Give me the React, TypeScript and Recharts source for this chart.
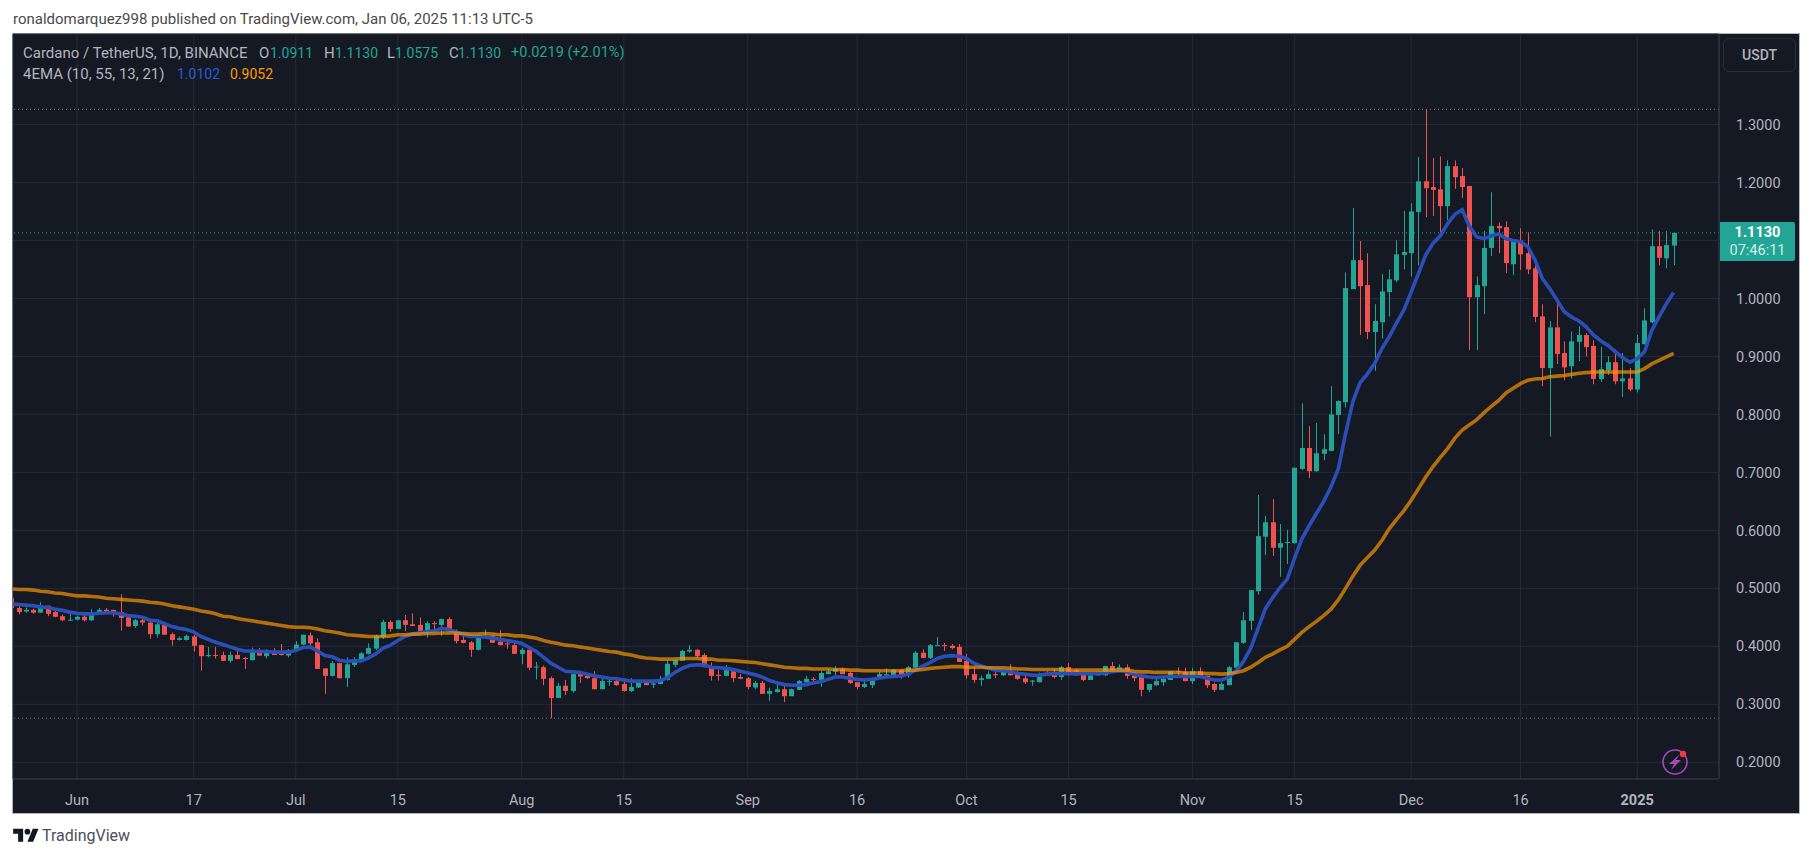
import { Bar, CartesianGrid, ComposedChart, Line, ReferenceLine, XAxis, YAxis } from "recharts";

// days are counted from Jun 1 2024, first candle is May 23
const firstDay = -9;

const opens = [
  0.483, 0.466, 0.46, 0.463, 0.458, 0.47, 0.459, 0.452, 0.445, 0.446,
  0.451, 0.445, 0.456, 0.463, 0.463, 0.459, 0.45, 0.435, 0.445, 0.441,
  0.421, 0.438, 0.421, 0.411, 0.411, 0.417, 0.402, 0.383, 0.385, 0.385,
  0.375, 0.385, 0.38, 0.376, 0.391, 0.383, 0.391, 0.387, 0.384, 0.392,
  0.403, 0.419, 0.407, 0.362, 0.349, 0.371, 0.345, 0.368, 0.375, 0.387,
  0.396, 0.416, 0.442, 0.43, 0.445, 0.438, 0.437, 0.423, 0.44, 0.437,
  0.447, 0.425, 0.411, 0.407, 0.394, 0.416, 0.418, 0.408, 0.405, 0.402,
  0.387, 0.394, 0.364, 0.364, 0.345, 0.311, 0.332, 0.323, 0.352, 0.349,
  0.345, 0.326, 0.339, 0.34, 0.335, 0.323, 0.329, 0.338, 0.334, 0.335,
  0.342, 0.368, 0.375, 0.391, 0.394, 0.385, 0.366, 0.351, 0.349, 0.357,
  0.347, 0.345, 0.329, 0.337, 0.318, 0.321, 0.326, 0.314, 0.325, 0.338,
  0.344, 0.342, 0.352, 0.356, 0.361, 0.354, 0.338, 0.33, 0.333, 0.344,
  0.35, 0.35, 0.359, 0.35, 0.363, 0.389, 0.38, 0.401, 0.402, 0.401,
  0.399, 0.375, 0.352, 0.342, 0.344, 0.352, 0.35, 0.357, 0.352, 0.345,
  0.339, 0.338, 0.352, 0.354, 0.347, 0.364, 0.359, 0.352, 0.342, 0.35,
  0.35, 0.366, 0.359, 0.364, 0.35, 0.347, 0.325, 0.333, 0.338, 0.342,
  0.357, 0.356, 0.34, 0.357, 0.349, 0.335, 0.325, 0.333, 0.363, 0.406,
  0.444, 0.495, 0.589, 0.614, 0.57, 0.578, 0.578, 0.706, 0.742, 0.702,
  0.732, 0.737, 0.799, 0.821, 1.016, 1.066, 1.023, 0.942, 0.959, 1.011,
  1.031, 1.075, 1.078, 1.149, 1.202, 1.192, 1.188, 1.159, 1.228, 1.211,
  1.194, 1.002, 1.021, 1.087, 1.125, 1.123, 1.059, 1.1, 1.078, 1.052,
  0.969, 0.88, 0.95, 0.906, 0.883, 0.925, 0.937, 0.918, 0.861, 0.876,
  0.89, 0.857, 0.862, 0.843, 0.921, 0.959, 1.09, 1.069, 1.0911,
];

const highs = [
  0.483, 0.47, 0.467, 0.465, 0.476, 0.47, 0.464, 0.455, 0.456, 0.453,
  0.454, 0.464, 0.466, 0.466, 0.463, 0.49, 0.451, 0.447, 0.452, 0.445,
  0.445, 0.44, 0.424, 0.417, 0.42, 0.42, 0.403, 0.399, 0.399, 0.391,
  0.391, 0.394, 0.382, 0.398, 0.397, 0.395, 0.397, 0.404, 0.395, 0.409,
  0.42, 0.424, 0.414, 0.362, 0.374, 0.372, 0.381, 0.381, 0.39, 0.405,
  0.42, 0.446, 0.445, 0.446, 0.454, 0.457, 0.45, 0.443, 0.443, 0.448,
  0.45, 0.429, 0.42, 0.409, 0.42, 0.429, 0.419, 0.428, 0.409, 0.409,
  0.397, 0.396, 0.373, 0.367, 0.348, 0.337, 0.342, 0.353, 0.356, 0.352,
  0.357, 0.345, 0.345, 0.347, 0.342, 0.345, 0.34, 0.34, 0.34, 0.349,
  0.376, 0.377, 0.394, 0.402, 0.395, 0.388, 0.372, 0.36, 0.368, 0.362,
  0.352, 0.347, 0.34, 0.34, 0.329, 0.34, 0.333, 0.327, 0.342, 0.349,
  0.347, 0.357, 0.361, 0.366, 0.363, 0.356, 0.338, 0.344, 0.345, 0.356,
  0.362, 0.361, 0.361, 0.366, 0.392, 0.395, 0.404, 0.416, 0.406, 0.404,
  0.404, 0.387, 0.365, 0.35, 0.357, 0.356, 0.359, 0.369, 0.357, 0.349,
  0.342, 0.355, 0.357, 0.361, 0.366, 0.371, 0.361, 0.355, 0.353, 0.357,
  0.366, 0.373, 0.369, 0.369, 0.356, 0.347, 0.335, 0.344, 0.349, 0.357,
  0.364, 0.363, 0.363, 0.364, 0.349, 0.337, 0.338, 0.366, 0.407, 0.459,
  0.497, 0.661, 0.625, 0.654, 0.611, 0.601, 0.708, 0.819, 0.78, 0.785,
  0.766, 0.849, 0.824, 1.045, 1.156, 1.099, 1.078, 0.99, 1.042, 1.05,
  1.1, 1.151, 1.164, 1.244, 1.326, 1.242, 1.245, 1.238, 1.238, 1.225,
  1.194, 1.038, 1.116, 1.183, 1.131, 1.133, 1.102, 1.121, 1.114, 1.061,
  0.99, 0.961, 0.999, 0.926, 0.943, 0.952, 0.94, 0.928, 0.916, 0.9,
  0.912, 0.906, 0.88, 0.937, 0.983, 1.119, 1.116, 1.116, 1.113,
];

const lows = [
  0.466, 0.455, 0.458, 0.456, 0.458, 0.452, 0.45, 0.444, 0.444, 0.445,
  0.443, 0.444, 0.455, 0.458, 0.451, 0.427, 0.434, 0.432, 0.436, 0.413,
  0.415, 0.42, 0.401, 0.41, 0.41, 0.391, 0.358, 0.381, 0.379, 0.375,
  0.372, 0.378, 0.361, 0.376, 0.384, 0.379, 0.385, 0.384, 0.381, 0.391,
  0.402, 0.402, 0.361, 0.318, 0.348, 0.345, 0.33, 0.364, 0.373, 0.386,
  0.394, 0.413, 0.425, 0.43, 0.426, 0.435, 0.422, 0.415, 0.428, 0.418,
  0.425, 0.405, 0.405, 0.382, 0.393, 0.413, 0.406, 0.402, 0.396, 0.387,
  0.369, 0.359, 0.343, 0.333, 0.276, 0.311, 0.316, 0.32, 0.337, 0.344,
  0.326, 0.326, 0.332, 0.332, 0.322, 0.321, 0.328, 0.333, 0.328, 0.335,
  0.341, 0.364, 0.375, 0.389, 0.381, 0.364, 0.341, 0.341, 0.349, 0.338,
  0.344, 0.326, 0.326, 0.318, 0.306, 0.32, 0.304, 0.314, 0.325, 0.338,
  0.338, 0.33, 0.352, 0.35, 0.352, 0.335, 0.326, 0.328, 0.328, 0.344,
  0.349, 0.35, 0.344, 0.346, 0.361, 0.38, 0.378, 0.401, 0.392, 0.395,
  0.373, 0.344, 0.337, 0.332, 0.344, 0.345, 0.349, 0.35, 0.342, 0.335,
  0.332, 0.338, 0.35, 0.345, 0.342, 0.349, 0.35, 0.34, 0.342, 0.35,
  0.349, 0.354, 0.357, 0.344, 0.34, 0.314, 0.321, 0.332, 0.332, 0.342,
  0.35, 0.34, 0.335, 0.345, 0.328, 0.321, 0.325, 0.333, 0.363, 0.404,
  0.428, 0.489, 0.557, 0.556, 0.52, 0.542, 0.577, 0.704, 0.69, 0.701,
  0.721, 0.737, 0.766, 0.812, 1.016, 0.937, 0.93, 0.875, 0.931, 0.969,
  1.028, 1.05, 1.038, 1.057, 1.14, 1.142, 1.114, 1.135, 1.189, 1.173,
  0.911, 0.911, 0.973, 1.073, 1.078, 1.044, 1.04, 1.049, 1.042, 0.959,
  0.849, 0.762, 0.887, 0.859, 0.862, 0.892, 0.9, 0.852, 0.856, 0.868,
  0.852, 0.83, 0.84, 0.838, 0.921, 0.957, 1.057, 1.052, 1.0575,
];

const closes = [
  0.466, 0.459, 0.463, 0.458, 0.47, 0.456, 0.451, 0.445, 0.446, 0.451,
  0.445, 0.457, 0.463, 0.46, 0.458, 0.449, 0.434, 0.445, 0.441, 0.421,
  0.438, 0.42, 0.411, 0.414, 0.418, 0.401, 0.383, 0.385, 0.384, 0.375,
  0.385, 0.378, 0.378, 0.391, 0.384, 0.391, 0.385, 0.385, 0.393, 0.403,
  0.42, 0.405, 0.361, 0.349, 0.371, 0.345, 0.369, 0.376, 0.388, 0.397,
  0.418, 0.442, 0.43, 0.445, 0.437, 0.435, 0.423, 0.44, 0.439, 0.447,
  0.426, 0.409, 0.406, 0.394, 0.418, 0.417, 0.406, 0.402, 0.404, 0.387,
  0.394, 0.363, 0.365, 0.344, 0.311, 0.332, 0.323, 0.352, 0.348, 0.345,
  0.326, 0.34, 0.34, 0.333, 0.323, 0.33, 0.338, 0.333, 0.336, 0.344,
  0.37, 0.376, 0.392, 0.394, 0.383, 0.364, 0.349, 0.349, 0.359, 0.345,
  0.344, 0.33, 0.337, 0.318, 0.323, 0.326, 0.314, 0.326, 0.34, 0.344,
  0.342, 0.354, 0.357, 0.361, 0.352, 0.337, 0.33, 0.335, 0.345, 0.352,
  0.352, 0.359, 0.35, 0.364, 0.389, 0.38, 0.402, 0.402, 0.401, 0.397,
  0.373, 0.35, 0.342, 0.345, 0.352, 0.35, 0.357, 0.35, 0.344, 0.338,
  0.341, 0.352, 0.354, 0.347, 0.364, 0.356, 0.35, 0.342, 0.35, 0.352,
  0.366, 0.357, 0.364, 0.349, 0.345, 0.325, 0.335, 0.34, 0.344, 0.357,
  0.356, 0.34, 0.357, 0.347, 0.333, 0.325, 0.335, 0.364, 0.407, 0.445,
  0.497, 0.59, 0.614, 0.57, 0.578, 0.58, 0.708, 0.742, 0.702, 0.733,
  0.74, 0.8, 0.823, 1.018, 1.066, 1.021, 0.942, 0.961, 1.012, 1.033,
  1.076, 1.08, 1.15, 1.202, 1.19, 1.187, 1.159, 1.228, 1.209, 1.192,
  1.002, 1.023, 1.087, 1.125, 1.121, 1.061, 1.1, 1.076, 1.05, 0.968,
  0.88, 0.95, 0.904, 0.881, 0.926, 0.937, 0.916, 0.861, 0.878, 0.89,
  0.857, 0.862, 0.843, 0.923, 0.962, 1.09, 1.07, 1.092, 1.113,
];

const emaBlue = [
  0.473, 0.472, 0.471, 0.47, 0.468, 0.467, 0.464, 0.462, 0.459, 0.457,
  0.456, 0.456, 0.457, 0.458, 0.458, 0.456, 0.453, 0.452, 0.45, 0.445,
  0.444, 0.439, 0.434, 0.431, 0.429, 0.425, 0.417, 0.412, 0.407, 0.403,
  0.399, 0.395, 0.392, 0.392, 0.391, 0.391, 0.39, 0.39, 0.39, 0.393,
  0.398, 0.399, 0.392, 0.384, 0.382, 0.376, 0.374, 0.375, 0.375, 0.38,
  0.387, 0.397, 0.402, 0.41, 0.417, 0.421, 0.424, 0.425, 0.427, 0.431,
  0.429, 0.425, 0.42, 0.417, 0.417, 0.416, 0.414, 0.412, 0.41, 0.408,
  0.405, 0.398, 0.391, 0.381, 0.371, 0.364, 0.357, 0.356, 0.355, 0.352,
  0.349, 0.347, 0.345, 0.344, 0.342, 0.34, 0.34, 0.34, 0.34, 0.341,
  0.346, 0.355, 0.362, 0.367, 0.368, 0.368, 0.364, 0.363, 0.362, 0.36,
  0.357, 0.354, 0.351, 0.347, 0.341, 0.337, 0.334, 0.333, 0.333, 0.334,
  0.337, 0.339, 0.343, 0.347, 0.347, 0.345, 0.343, 0.342, 0.343, 0.345,
  0.347, 0.348, 0.349, 0.352, 0.359, 0.366, 0.372, 0.379, 0.383, 0.384,
  0.383, 0.379, 0.371, 0.366, 0.362, 0.359, 0.358, 0.356, 0.353, 0.352,
  0.35, 0.35, 0.352, 0.353, 0.353, 0.353, 0.353, 0.353, 0.353, 0.353,
  0.354, 0.356, 0.358, 0.356, 0.352, 0.349, 0.347, 0.346, 0.347, 0.348,
  0.348, 0.348, 0.348, 0.348, 0.345, 0.342, 0.342, 0.347, 0.358, 0.374,
  0.397, 0.431, 0.465, 0.484, 0.501, 0.516, 0.552, 0.585, 0.608, 0.629,
  0.65, 0.675, 0.706, 0.767, 0.822, 0.855, 0.87, 0.888, 0.914, 0.934,
  0.958, 0.98, 1.011, 1.043, 1.075, 1.095, 1.108, 1.129, 1.145, 1.153,
  1.124, 1.106, 1.103, 1.108, 1.111, 1.103, 1.1, 1.098, 1.089, 1.066,
  1.034, 1.017, 0.997, 0.977, 0.968, 0.961, 0.951, 0.937, 0.927, 0.919,
  0.908, 0.898, 0.89, 0.896, 0.908, 0.945, 0.968, 0.991, 1.0102,
];

const emaOrange = [
  0.499, 0.498, 0.498, 0.497, 0.495, 0.494, 0.492, 0.491, 0.489, 0.487,
  0.487, 0.486, 0.485, 0.483, 0.482, 0.481, 0.48, 0.479, 0.478, 0.476,
  0.475, 0.473, 0.47, 0.468, 0.466, 0.464, 0.461, 0.459, 0.456, 0.452,
  0.451, 0.448, 0.446, 0.444, 0.442, 0.44, 0.438, 0.436, 0.434, 0.433,
  0.433, 0.432, 0.43, 0.427, 0.425, 0.423, 0.42, 0.419, 0.418, 0.417,
  0.417, 0.417, 0.418, 0.42, 0.42, 0.421, 0.421, 0.422, 0.422, 0.423,
  0.423, 0.423, 0.422, 0.421, 0.421, 0.422, 0.421, 0.42, 0.42, 0.418,
  0.418, 0.416, 0.414, 0.41, 0.407, 0.405, 0.402, 0.401, 0.399, 0.397,
  0.395, 0.393, 0.391, 0.39, 0.387, 0.385, 0.382, 0.38, 0.379, 0.378,
  0.378, 0.378, 0.379, 0.379, 0.379, 0.378, 0.378, 0.376, 0.376, 0.375,
  0.374, 0.373, 0.372, 0.37, 0.368, 0.366, 0.364, 0.363, 0.362, 0.362,
  0.361, 0.361, 0.361, 0.36, 0.36, 0.359, 0.359, 0.358, 0.358, 0.358,
  0.358, 0.358, 0.358, 0.359, 0.359, 0.36, 0.362, 0.363, 0.364, 0.365,
  0.365, 0.364, 0.364, 0.364, 0.363, 0.363, 0.363, 0.362, 0.361, 0.361,
  0.36, 0.36, 0.36, 0.36, 0.36, 0.359, 0.359, 0.359, 0.359, 0.359,
  0.359, 0.359, 0.359, 0.359, 0.357, 0.356, 0.356, 0.355, 0.355, 0.355,
  0.355, 0.354, 0.354, 0.354, 0.353, 0.353, 0.352, 0.353, 0.355, 0.358,
  0.364, 0.372, 0.381, 0.387, 0.394, 0.4, 0.412, 0.424, 0.434, 0.443,
  0.453, 0.464, 0.48, 0.5, 0.521, 0.54, 0.553, 0.566, 0.583, 0.603,
  0.619, 0.634, 0.652, 0.672, 0.692, 0.71, 0.726, 0.741, 0.759, 0.773,
  0.782, 0.791, 0.803, 0.814, 0.824, 0.837, 0.845, 0.853, 0.859, 0.861,
  0.862, 0.865, 0.866, 0.867, 0.869, 0.871, 0.872, 0.873, 0.873, 0.873,
  0.873, 0.873, 0.873, 0.873, 0.879, 0.887, 0.893, 0.899, 0.9052,
];

const priceTicks = [0.2, 0.3, 0.4, 0.5, 0.6, 0.7, 0.8, 0.9, 1.0, 1.1, 1.2, 1.3];
const priceLabelTicks = priceTicks.filter((t) => t !== 1.1);
const dayTicks = [0, 16, 30, 44, 61, 75, 92, 107, 122, 136, 153, 167, 183, 198, 214];
const dayLabels = ["Jun", "17", "Jul", "15", "Aug", "15", "Sep", "16", "Oct", "15", "Nov", "15", "Dec", "16", "2025"];

const chartHigh = 1.326;
const chartLow = 0.276;
const lastPrice = 1.113;

const UP = "#22a594";
const DOWN = "#f0524f";
const TEXT = "#b2b5be";
const GRID = "#262a36";
const AXIS = "#363a45";
const FONT = "Roboto, sans-serif";

const data = opens.map((open, i) => ({
  day: firstDay + i,
  open,
  close: closes[i],
  range: [lows[i], highs[i]],
  blue: emaBlue[i],
  orange: emaOrange[i],
}));

// one candle, the bar gives y and height of the low-high range
const Candle = (props: any) => {
  const { x, y, width, height, payload } = props;
  const perUnit = height / (payload.range[1] - payload.range[0]);
  const color = payload.close >= payload.open ? UP : DOWN;
  const cx = Math.round(x + width / 2);
  const top = y + (payload.range[1] - Math.max(payload.open, payload.close)) * perUnit;
  const bodyH = Math.abs(payload.open - payload.close) * perUnit;
  return (
    <g>
      <rect x={cx} y={y} width={1} height={height} fill={color} />
      <rect x={cx - 2} y={top} width={5} height={Math.max(bodyH, 1)} fill={color} />
    </g>
  );
};

const DayTick = (props: any) => {
  const { x, y, payload } = props;
  const label = dayLabels[dayTicks.indexOf(payload.value)];
  return (
    <text
      x={x}
      y={y + 18}
      textAnchor="middle"
      fontFamily={FONT}
      fontSize={14.5}
      fontWeight={label === "2025" ? 700 : 400}
      fill={TEXT}
    >
      {label}
    </text>
  );
};

const label = (left: number, top: number, text: string, color: string, extra = {}) => (
  <div
    style={{
      position: "absolute",
      left,
      top,
      color,
      fontFamily: FONT,
      fontSize: 14,
      lineHeight: "18px",
      whiteSpace: "nowrap",
      ...extra,
    }}
  >
    {text}
  </div>
);

export default function App() {
  return (
    <div style={{ position: "absolute", left: 0, top: 0, width: 1814, height: 858, background: "#fff", overflow: "hidden" }}>
      {label(13, 10, "ronaldomarquez998 published on TradingView.com, Jan 06, 2025 11:13 UTC-5", "#4a4a4a", { fontSize: 15 })}
      <div
        style={{
          position: "absolute",
          left: 12,
          top: 33,
          width: 1788,
          height: 781,
          boxSizing: "border-box",
          border: "1px solid #b2b5be",
          background: "#151924",
        }}
      />
      <div style={{ position: "absolute", left: 0, top: 0 }}>
        <ComposedChart
          width={1814}
          height={858}
          data={data}
          margin={{ top: 34, right: 14, bottom: 45, left: 13 }}
        >
          <CartesianGrid stroke={GRID} />
          <XAxis
            dataKey="day"
            type="number"
            domain={[-8.78, 225.22]}
            allowDataOverflow
            ticks={dayTicks}
            tick={<DayTick />}
            tickLine={false}
            height={34}
            stroke={AXIS}
          />
          <YAxis
            orientation="right"
            type="number"
            width={81}
            domain={[0.1712, 1.456]}
            allowDataOverflow
            ticks={priceTicks}
            tickFormatter={(v: number) => (priceLabelTicks.includes(v) ? v.toFixed(4) : "")}
            tick={{ fill: TEXT, fontFamily: FONT, fontSize: 14.5 }}
            tickLine={false}
            tickMargin={11}
            stroke={AXIS}
          />
          <ReferenceLine y={chartHigh} stroke="#787b86" strokeDasharray="1 3" />
          <ReferenceLine y={chartLow} stroke="#787b86" strokeDasharray="1 3" />
          <ReferenceLine y={lastPrice} stroke={UP} strokeDasharray="1 3" />
          <Line dataKey="blue" stroke="#2a4fb8" strokeWidth={3.6} dot={false} isAnimationActive={false} />
          <Line dataKey="orange" stroke="#ff9800" strokeOpacity={0.68} strokeWidth={3.6} dot={false} isAnimationActive={false} />
          <Bar dataKey="range" barSize={5} shape={<Candle />} isAnimationActive={false} />
        </ComposedChart>
      </div>

      {label(23, 44, "Cardano / TetherUS, 1D, BINANCE", TEXT, { fontSize: 15 })}
      {label(259, 44, "O", TEXT, { fontSize: 15 })}
      {label(270, 44, "1.0911", UP)}
      {label(324, 44, "H", TEXT, { fontSize: 15 })}
      {label(335, 44, "1.1130", UP)}
      {label(387, 44, "L", TEXT, { fontSize: 15 })}
      {label(395, 44, "1.0575", UP)}
      {label(449, 44, "C", TEXT, { fontSize: 15 })}
      {label(458, 44, "1.1130", UP)}
      {label(511, 44, "+0.0219 (+2.01%)", UP, { fontSize: 14.5 })}
      {label(23, 65, "4EMA (10, 55, 13, 21)", TEXT, { fontSize: 15 })}
      {label(177, 65, "1.0102", "#2a5bd7")}
      {label(230, 65, "0.9052", "#ff9800")}

      <div
        style={{
          position: "absolute",
          left: 1723,
          top: 38,
          width: 73,
          height: 34,
          boxSizing: "border-box",
          border: "1px solid #2a2e39",
          borderRadius: 6,
          color: TEXT,
          fontFamily: FONT,
          fontSize: 14,
          fontWeight: 500,
          lineHeight: "32px",
          textAlign: "center",
        }}
      >
        USDT
      </div>

      <div
        style={{
          position: "absolute",
          left: 1720,
          top: 222,
          width: 75,
          height: 39,
          background: UP,
          borderRadius: "0 2px 2px 0",
          color: "#fff",
          fontFamily: FONT,
          fontSize: 14.5,
          lineHeight: "18px",
          textAlign: "center",
          paddingTop: 2,
          boxSizing: "border-box",
        }}
      >
        <div style={{ fontWeight: 700 }}>1.1130</div>
        <div style={{ color: "#d3ede9" }}>07:46:11</div>
      </div>

      <svg style={{ position: "absolute", left: 1660, top: 746 }} width={32} height={32} viewBox="0 0 32 32">
        <circle cx={15} cy={16} r={12} fill="none" stroke="#ab47bc" strokeWidth={1.6} />
        <path d="M20 8 L9 18 L14 18 L11 24 L21 14 L16 14 Z" fill="#ab47bc" />
        <circle cx={23} cy={8} r={3.2} fill="#f23645" />
      </svg>

      <svg style={{ position: "absolute", left: 13, top: 826 }} width={26} height={20} viewBox="0 0 36 28" fill="#131722">
        <path d="M14 22H7V11H0V4h14v18zM28 22h-8l7.5-18h8L28 22z" />
        <circle cx={20} cy={8} r={4} />
      </svg>
      {label(42, 826, "TradingView", "#4a4f5c", { fontSize: 16, lineHeight: "20px" })}
    </div>
  );
}
